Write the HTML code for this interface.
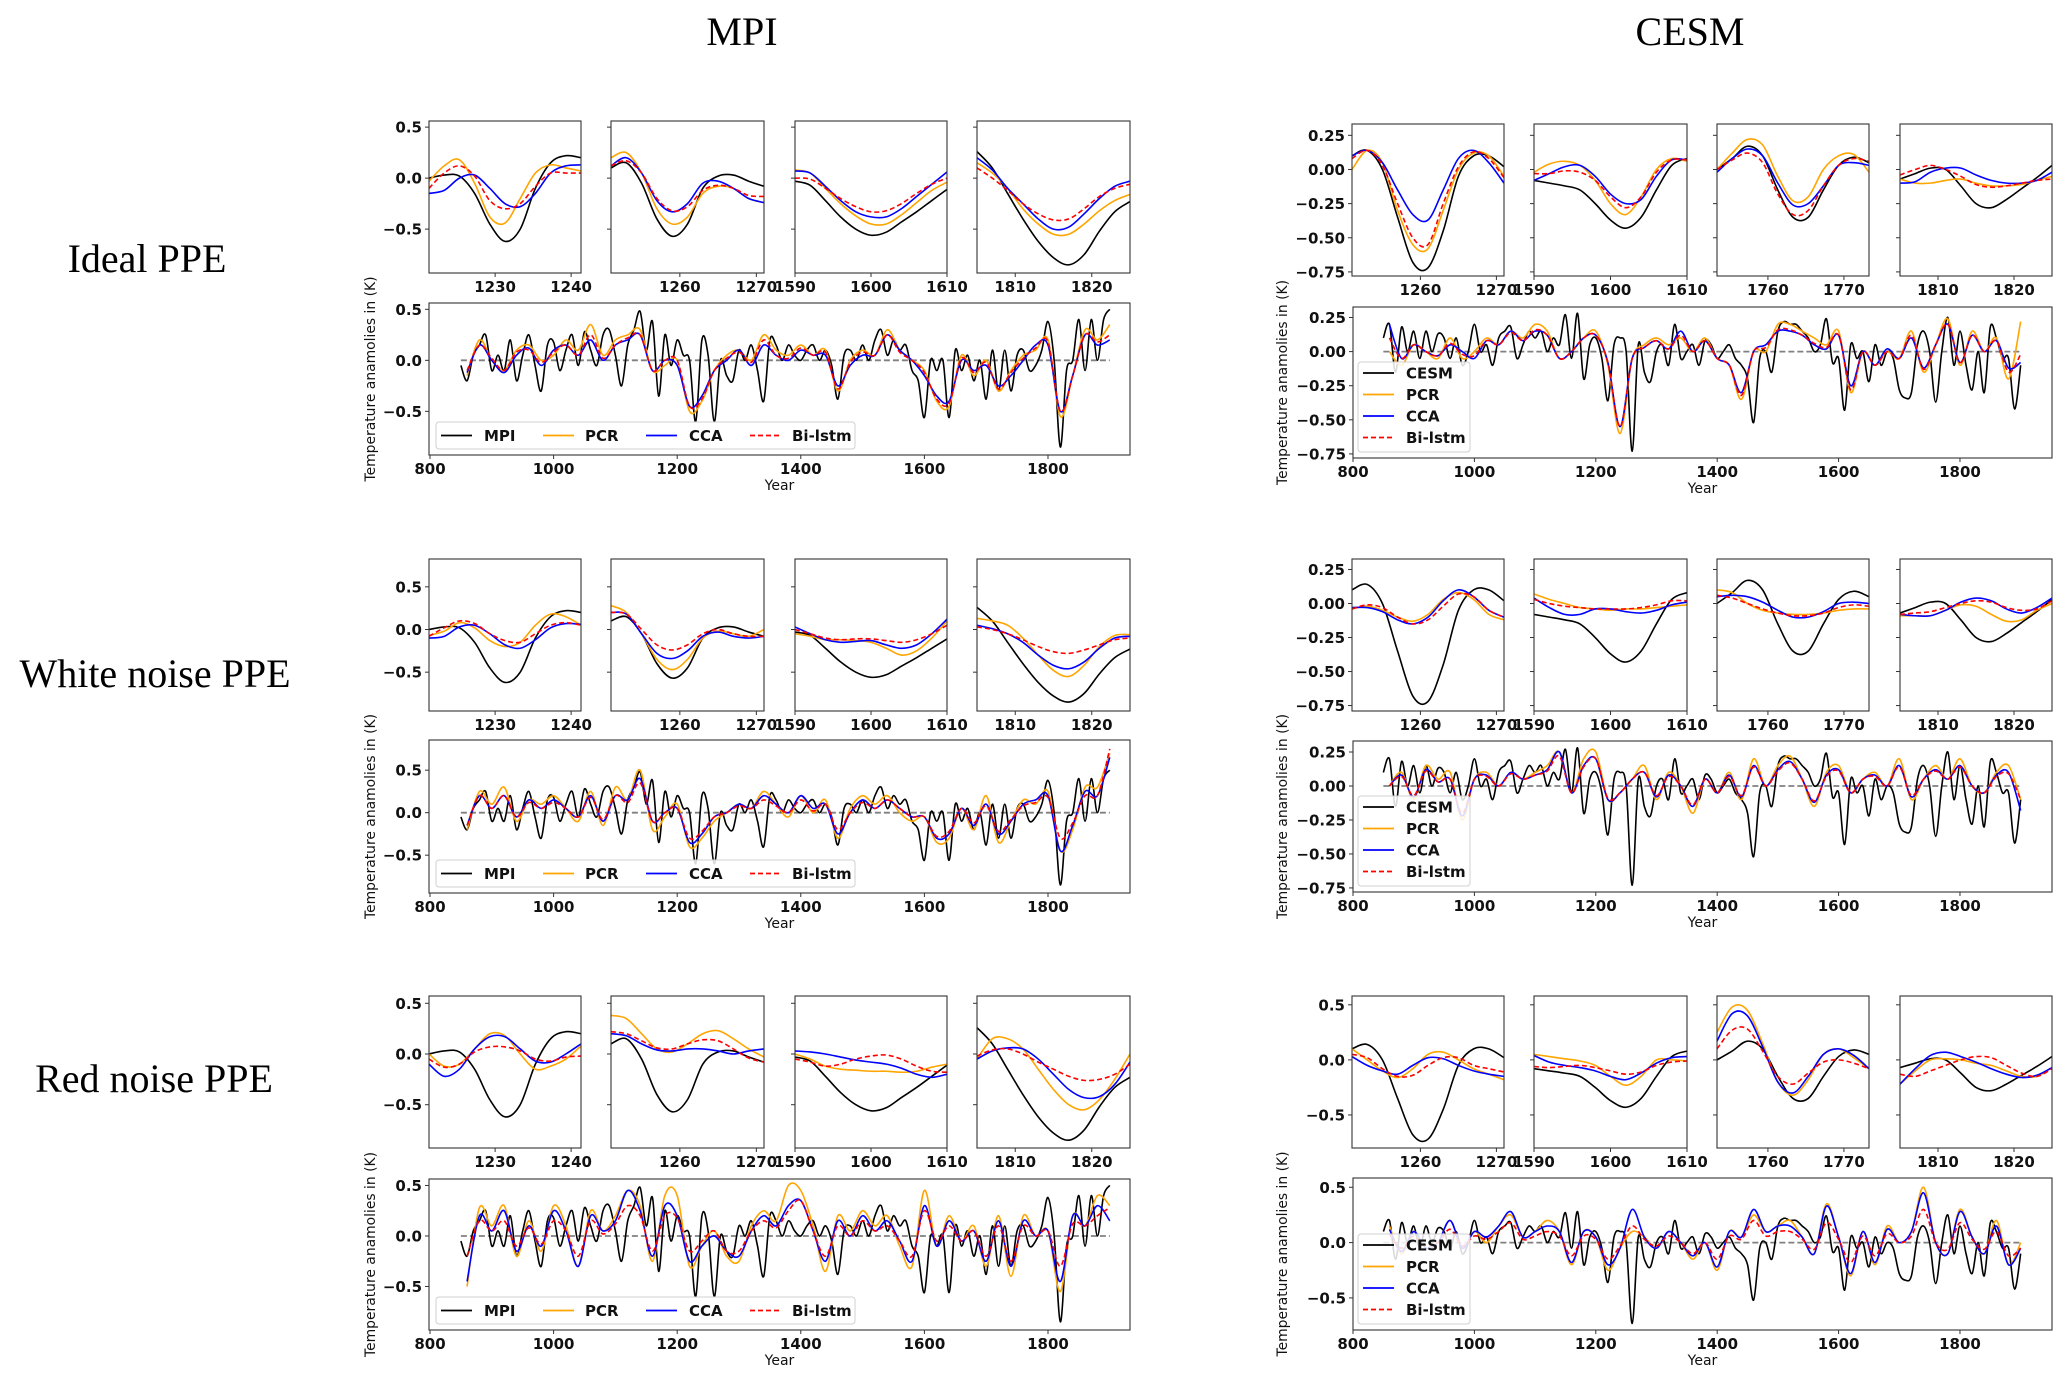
<!DOCTYPE html>
<html><head><meta charset="utf-8"><title>PPE reconstructions MPI vs CESM</title>
<style>
html,body{margin:0;padding:0;background:#fff;}
svg{display:block;}
.tk{font-family:"DejaVu Sans","Liberation Sans",sans-serif;font-weight:bold;font-size:15px;fill:#111;}
.lab{font-family:"DejaVu Sans","Liberation Sans",sans-serif;font-size:14px;fill:#111;}
.ttl{font-family:"Liberation Serif",serif;font-size:40px;fill:#000;}
</style></head>
<body>
<svg id="fig" width="2067" height="1384" viewBox="0 0 2067 1384" xmlns="http://www.w3.org/2000/svg">
<text class="ttl" x="742" y="45" text-anchor="middle">MPI</text>
<text class="ttl" x="1690" y="45" text-anchor="middle">CESM</text>
<text class="ttl" x="147" y="272" text-anchor="middle">Ideal PPE</text>
<text class="ttl" x="155" y="687" text-anchor="middle">White noise PPE</text>
<text class="ttl" x="154" y="1092" text-anchor="middle">Red noise PPE</text>
</svg>
<script>
// ---------- DATA ----------
const TRUTH_START = 850, TRUTH_STEP = 10;
const PRED_START = 860, PRED_STEP = 20;
const MPI_TRUTH = [-0.05,-0.2,0.05,0.15,0.25,-0.1,0.05,-0.1,0.2,-0.2,0.05,0.25,-0.05,-0.3,0.15,0.18,-0.1,0.1,0.25,-0.05,0.28,0.1,-0.05,0.25,0.3,0.05,-0.25,0.15,0.3,0.48,0.1,0.38,-0.35,0.25,-0.05,0.2,0.05,0.0,-0.6,0.2,0.05,-0.6,0.0,-0.15,-0.2,0.1,0.0,0.15,-0.1,-0.4,0.2,0.15,0.0,0.15,0.05,0.0,0.1,0.15,0.0,0.1,-0.05,-0.38,0.05,0.1,0.0,0.15,0.0,0.2,0.3,0.05,0.2,0.1,0.15,-0.1,-0.2,-0.56,0.0,-0.1,0.0,-0.56,0.1,-0.1,0.05,-0.2,0.0,-0.38,0.1,-0.3,0.1,-0.3,0.05,0.1,-0.1,-0.05,0.1,0.38,0.0,-0.85,-0.1,0.0,0.4,-0.1,0.4,0.0,0.4,0.5];
const CESM_TRUTH = [0.1,0.2,-0.15,0.18,0.0,0.15,-0.05,0.15,0.0,0.13,0.1,-0.05,0.1,-0.1,0.0,0.2,0.0,0.05,-0.1,0.1,0.15,0.18,-0.05,0.05,0.15,0.1,0.15,0.0,0.1,0.05,0.27,-0.05,0.28,-0.2,0.05,0.1,-0.05,-0.36,0.05,0.1,0.0,-0.73,0.05,-0.15,-0.22,0.0,0.05,-0.1,0.2,-0.05,0.0,0.05,-0.1,0.08,0.05,-0.05,0.0,0.05,-0.05,-0.1,-0.2,-0.52,-0.05,0.0,-0.15,0.15,0.22,0.2,0.2,0.15,0.1,0.0,0.05,0.24,-0.08,-0.05,-0.43,0.05,-0.05,0.0,-0.22,0.05,-0.1,0.0,-0.05,-0.28,-0.34,-0.3,0.05,0.15,0.0,-0.37,0.0,0.25,-0.1,0.15,-0.1,-0.28,0.0,-0.3,0.18,0.1,-0.05,-0.05,-0.42,-0.1];

const MPI_IDEAL_PCR = [-0.15,0.2,0.0,-0.1,0.1,0.15,0.0,0.05,0.2,0.1,0.35,0.05,0.2,0.25,0.3,-0.1,-0.05,0.0,-0.5,-0.4,-0.1,0.05,0.1,0.0,0.25,0.1,0.05,0.15,0.05,0.1,-0.3,0.0,0.1,0.05,0.3,0.1,0.0,-0.1,-0.4,-0.45,0.05,-0.15,0.0,-0.3,-0.1,0.05,0.1,0.2,-0.55,-0.15,0.3,0.2,0.35];
const MPI_IDEAL_CCA = [-0.12,0.15,0.0,-0.12,0.05,0.12,-0.05,0.1,0.15,0.05,0.2,0.0,0.15,0.2,0.25,-0.1,0.0,-0.05,-0.45,-0.35,-0.1,0.0,0.1,-0.05,0.15,0.05,0.0,0.1,0.05,0.05,-0.25,-0.05,0.05,0.05,0.25,0.1,0.0,-0.15,-0.35,-0.4,0.0,-0.1,-0.05,-0.25,-0.15,0.0,0.15,0.15,-0.5,-0.15,0.25,0.15,0.2];
const MPI_IDEAL_BILSTM = [-0.1,0.15,0.02,-0.1,0.08,0.1,-0.02,0.08,0.15,0.05,0.25,0.02,0.15,0.22,0.25,-0.1,0.0,0.0,-0.45,-0.38,-0.1,0.02,0.08,-0.02,0.2,0.05,0.02,0.12,0.05,0.08,-0.28,-0.02,0.08,0.05,0.25,0.08,0.0,-0.12,-0.38,-0.42,0.02,-0.12,-0.02,-0.28,-0.12,0.02,0.12,0.18,-0.5,-0.15,0.25,0.18,0.25];
const MPI_WHITE_PCR = [-0.2,0.25,0.1,0.3,-0.1,0.15,0.1,0.2,0.05,-0.1,0.25,-0.15,0.3,0.15,0.5,-0.2,-0.05,0.1,-0.4,-0.3,-0.1,0.0,0.1,0.05,0.25,0.1,-0.05,0.2,0.0,0.15,-0.3,0.05,0.2,0.1,0.2,0.0,-0.1,-0.05,-0.35,-0.3,0.05,-0.2,0.2,-0.35,-0.1,0.15,0.1,0.25,-0.45,-0.2,0.3,0.3,0.7];
const MPI_WHITE_CCA = [-0.15,0.2,0.05,0.2,-0.05,0.15,0.05,0.15,0.05,-0.05,0.2,-0.1,0.2,0.15,0.4,-0.1,0.0,0.05,-0.35,-0.25,-0.05,0.0,0.1,0.05,0.2,0.1,0.0,0.2,0.05,0.1,-0.25,0.0,0.15,0.05,0.15,0.05,-0.05,-0.05,-0.3,-0.25,0.05,-0.15,0.1,-0.25,-0.1,0.1,0.15,0.2,-0.45,-0.15,0.25,0.2,0.65];
const MPI_WHITE_BILSTM = [-0.15,0.2,0.05,0.2,-0.05,0.12,0.05,0.12,0.05,-0.05,0.18,-0.08,0.2,0.12,0.35,-0.1,0.0,0.05,-0.3,-0.22,-0.05,0.0,0.08,0.05,0.15,0.08,0.0,0.15,0.02,0.1,-0.2,0.0,0.12,0.05,0.15,0.05,-0.05,-0.05,-0.28,-0.22,0.05,-0.12,0.08,-0.22,-0.08,0.08,0.12,0.18,-0.3,-0.12,0.2,0.2,0.75];
const MPI_RED_PCR = [-0.5,0.28,0.1,0.3,-0.2,0.15,-0.15,0.3,0.1,-0.3,0.25,0.05,0.2,0.45,0.3,-0.25,0.4,0.4,-0.3,-0.1,0.05,-0.2,-0.25,0.1,0.25,0.15,0.5,0.45,0.1,-0.35,0.2,0.05,0.25,0.1,0.2,-0.1,-0.3,0.45,-0.1,0.2,-0.05,0.1,-0.3,0.2,-0.4,0.2,0.0,0.05,-0.55,0.2,0.1,0.4,0.3];
const MPI_RED_CCA = [-0.45,0.2,0.05,0.25,-0.15,0.1,-0.1,0.25,0.05,-0.3,0.2,0.05,0.15,0.45,0.25,-0.2,0.3,0.2,-0.25,-0.1,0.0,-0.15,-0.2,0.05,0.2,0.1,0.3,0.35,0.05,-0.25,0.15,0.0,0.2,0.05,0.15,-0.05,-0.25,0.3,-0.1,0.15,-0.05,0.05,-0.25,0.15,-0.3,0.15,0.0,0.05,-0.45,0.2,0.1,0.3,0.15];
const MPI_RED_BILSTM = [-0.2,0.15,0.05,0.15,-0.1,0.08,-0.08,0.15,0.05,-0.2,0.15,0.02,0.12,0.3,0.2,-0.15,0.2,0.18,-0.15,-0.05,0.05,-0.15,-0.15,0.05,0.15,0.08,0.25,0.35,0.05,-0.2,0.1,0.0,0.15,0.05,0.1,-0.05,-0.2,0.25,-0.05,0.1,-0.05,0.05,-0.2,0.1,-0.25,0.1,0.0,0.05,-0.3,0.12,0.1,0.2,0.28];
const CESM_IDEAL_PCR = [0.0,-0.1,0.05,0.0,-0.05,0.1,-0.05,0.0,0.1,0.05,0.15,0.1,0.2,0.15,-0.05,0.0,0.1,0.15,-0.1,-0.6,-0.05,0.05,0.1,0.05,0.1,0.0,0.1,-0.05,-0.1,-0.35,0.0,0.0,0.2,0.2,0.15,0.1,0.05,0.15,-0.3,0.0,-0.1,0.0,-0.05,0.15,-0.15,0.05,0.24,-0.1,0.15,0.0,0.1,-0.2,0.22];
const CESM_IDEAL_CCA = [0.2,-0.05,0.05,0.0,-0.03,0.05,0.0,-0.05,0.08,0.05,0.15,0.08,0.15,0.12,-0.05,0.0,0.1,0.12,-0.08,-0.55,-0.05,0.03,0.08,0.02,0.15,0.0,0.08,-0.05,-0.1,-0.3,0.0,0.05,0.15,0.15,0.12,0.05,0.02,0.12,-0.25,0.0,-0.1,0.02,-0.05,0.1,-0.12,0.05,0.2,-0.08,0.12,0.0,0.08,-0.12,-0.08];
const CESM_IDEAL_BILSTM = [0.1,-0.05,0.05,0.0,-0.03,0.06,-0.02,-0.03,0.08,0.05,0.14,0.08,0.16,0.12,-0.05,0.0,0.1,0.12,-0.08,-0.55,-0.05,0.03,0.08,0.02,0.12,0.0,0.08,-0.05,-0.1,-0.32,0.0,0.03,0.16,0.16,0.12,0.06,0.03,0.12,-0.28,0.0,-0.1,0.0,-0.05,0.12,-0.13,0.05,0.2,-0.08,0.12,0.0,0.08,-0.15,-0.02];
const CESM_WHITE_PCR = [0.0,0.1,-0.1,0.15,0.05,0.1,-0.25,0.05,0.1,0.0,0.1,0.05,0.1,0.15,0.25,-0.05,0.2,0.25,-0.1,-0.05,0.05,0.15,-0.1,0.1,0.0,-0.2,0.05,-0.05,0.1,-0.1,0.2,0.0,0.15,0.22,0.05,-0.15,0.1,0.15,-0.05,0.05,0.1,0.0,0.2,-0.1,0.05,0.15,0.05,0.2,0.0,-0.05,0.1,0.15,-0.1];
const CESM_WHITE_CCA = [0.0,0.08,-0.08,0.12,0.03,0.05,-0.22,0.05,0.08,0.0,0.1,0.05,0.08,0.12,0.25,-0.05,0.15,0.2,-0.1,-0.05,0.05,0.1,-0.08,0.08,0.0,-0.15,0.05,-0.05,0.08,-0.08,0.15,0.0,0.12,0.18,0.05,-0.12,0.08,0.12,-0.05,0.05,0.08,0.0,0.15,-0.08,0.05,0.12,0.05,0.15,0.0,-0.05,0.08,0.1,-0.18];
const CESM_WHITE_BILSTM = [0.0,0.07,-0.07,0.11,0.03,0.05,-0.2,0.05,0.07,0.0,0.09,0.05,0.08,0.11,0.22,-0.05,0.14,0.2,-0.09,-0.05,0.05,0.1,-0.07,0.07,0.0,-0.14,0.05,-0.05,0.07,-0.07,0.14,0.0,0.11,0.17,0.05,-0.11,0.07,0.11,-0.05,0.05,0.07,0.0,0.14,-0.07,0.05,0.11,0.05,0.14,0.0,-0.05,0.07,0.09,-0.1];
const CESM_RED_PCR = [0.15,-0.1,0.1,-0.05,0.0,0.2,-0.05,0.1,0.0,0.15,0.25,0.05,0.1,0.2,0.1,-0.2,0.1,0.05,-0.25,-0.05,0.1,0.05,-0.05,0.1,0.0,-0.15,0.0,-0.25,0.1,0.05,0.25,0.1,0.15,0.2,0.05,-0.1,0.35,0.05,-0.3,0.1,-0.2,0.15,0.0,0.1,0.5,0.0,-0.1,0.3,0.05,-0.1,0.2,-0.2,0.0];
const CESM_RED_CCA = [0.12,-0.08,0.1,-0.05,0.0,0.2,-0.05,0.1,0.05,0.15,0.28,0.05,0.1,0.15,0.1,-0.18,0.1,0.05,-0.2,-0.05,0.3,0.05,-0.05,0.1,0.0,-0.12,0.0,-0.22,0.1,0.05,0.3,0.1,0.15,0.15,0.05,-0.1,0.33,0.05,-0.28,0.1,-0.18,0.12,0.0,0.1,0.45,0.0,-0.1,0.28,0.05,-0.1,0.15,-0.2,-0.05];
const CESM_RED_BILSTM = [0.08,-0.05,0.06,-0.03,0.0,0.12,-0.03,0.06,0.03,0.1,0.18,0.03,0.06,0.1,0.06,-0.12,0.06,0.03,-0.15,-0.03,0.15,0.03,-0.03,0.06,0.0,-0.1,0.0,-0.15,0.06,0.03,0.2,0.06,0.1,0.1,0.03,-0.06,0.18,0.03,-0.18,0.06,-0.12,0.08,0.0,0.06,0.3,0.0,-0.06,0.18,0.03,-0.06,0.1,-0.12,-0.05];

// zoomed windows: values every 2 years from window start
const ZOOM_STEP = 2;
const MPI_ZOOM_START = [1221.3, 1251, 1590, 1805];
const CESM_ZOOM_START = [1251, 1590, 1753.3, 1805];
const MPI_ZOOM_TICKS = [[1230,1240],[1260,1270],[1590,1600,1610],[1810,1820]];
const CESM_ZOOM_TICKS = [[1260,1270],[1590,1600,1610],[1760,1770],[1810,1820]];
const MPI_ZOOM_TRUTH = [
 [0.0,0.03,0.02,-0.15,-0.45,-0.62,-0.5,-0.1,0.15,0.22,0.2],
 [0.1,0.15,-0.05,-0.4,-0.57,-0.45,-0.1,0.02,0.03,-0.03,-0.08],
 [-0.03,-0.07,-0.22,-0.38,-0.5,-0.56,-0.53,-0.43,-0.33,-0.22,-0.11],
 [0.26,0.1,-0.15,-0.4,-0.62,-0.78,-0.85,-0.75,-0.52,-0.33,-0.23]];
const CESM_ZOOM_TRUTH = [
 [0.1,0.14,0.0,-0.35,-0.68,-0.72,-0.45,-0.05,0.1,0.1,0.02],
 [-0.08,-0.1,-0.12,-0.15,-0.25,-0.37,-0.43,-0.35,-0.15,0.03,0.08],
 [0.0,0.08,0.17,0.1,-0.15,-0.35,-0.35,-0.15,0.03,0.09,0.05],
 [-0.07,-0.03,0.01,0.0,-0.12,-0.25,-0.28,-0.22,-0.14,-0.06,0.03]];
const MPI_IDEAL_ZOOM_PCR = [[-0.03,0.12,0.18,-0.05,-0.38,-0.44,-0.2,0.05,0.13,0.1,0.07],[0.2,0.25,0.05,-0.3,-0.45,-0.38,-0.15,-0.08,-0.1,-0.2,-0.24],[0.08,0.05,-0.1,-0.25,-0.37,-0.45,-0.45,-0.36,-0.24,-0.12,-0.04],[0.15,0.05,-0.1,-0.3,-0.45,-0.55,-0.55,-0.45,-0.32,-0.22,-0.16]];
const MPI_IDEAL_ZOOM_CCA = [[-0.15,-0.12,0.0,0.03,-0.1,-0.25,-0.28,-0.15,0.05,0.12,0.13],[0.12,0.2,0.05,-0.22,-0.33,-0.25,-0.05,-0.03,-0.1,-0.2,-0.24],[0.07,0.05,-0.08,-0.22,-0.33,-0.38,-0.38,-0.3,-0.18,-0.06,0.06],[0.2,0.08,-0.1,-0.25,-0.4,-0.5,-0.48,-0.35,-0.2,-0.08,-0.03]];
const MPI_IDEAL_ZOOM_BILSTM = [[-0.1,0.05,0.12,0.02,-0.22,-0.3,-0.25,-0.08,0.05,0.05,0.05],[0.12,0.17,0.05,-0.2,-0.32,-0.28,-0.12,-0.07,-0.1,-0.17,-0.18],[0.0,-0.01,-0.1,-0.2,-0.28,-0.33,-0.32,-0.25,-0.15,-0.06,0.0],[0.1,0.0,-0.12,-0.25,-0.35,-0.41,-0.4,-0.3,-0.18,-0.1,-0.06]];
const MPI_WHITE_ZOOM_PCR = [[-0.07,-0.02,0.08,0.02,-0.13,-0.2,-0.15,0.05,0.18,0.15,0.05],[0.28,0.2,-0.05,-0.35,-0.47,-0.35,-0.1,-0.02,-0.05,-0.08,0.0],[-0.05,-0.08,-0.12,-0.12,-0.13,-0.15,-0.22,-0.3,-0.25,-0.1,0.1],[0.13,0.1,0.05,-0.1,-0.3,-0.48,-0.55,-0.42,-0.2,-0.07,-0.06]];
const MPI_WHITE_ZOOM_CCA = [[-0.1,-0.08,0.03,0.05,-0.05,-0.18,-0.22,-0.12,0.02,0.07,0.06],[0.2,0.18,-0.05,-0.28,-0.34,-0.25,-0.08,-0.03,-0.08,-0.1,-0.08],[0.03,-0.05,-0.12,-0.15,-0.14,-0.13,-0.18,-0.22,-0.18,-0.05,0.12],[0.05,0.01,-0.05,-0.15,-0.3,-0.42,-0.46,-0.38,-0.22,-0.1,-0.08]];
const MPI_WHITE_ZOOM_BILSTM = [[-0.08,0.02,0.1,0.07,-0.05,-0.13,-0.15,-0.05,0.05,0.08,0.05],[0.2,0.18,0.0,-0.18,-0.24,-0.18,-0.05,0.0,-0.05,-0.08,-0.08],[0.0,-0.05,-0.1,-0.12,-0.11,-0.11,-0.13,-0.15,-0.12,-0.05,0.05],[0.03,0.0,-0.05,-0.12,-0.2,-0.26,-0.28,-0.24,-0.18,-0.12,-0.1]];
const MPI_RED_ZOOM_PCR = [[0.0,-0.12,-0.1,0.05,0.2,0.18,0.0,-0.15,-0.12,-0.05,0.08],[0.38,0.35,0.2,0.05,0.02,0.1,0.2,0.23,0.15,0.05,-0.03],[0.0,-0.05,-0.12,-0.15,-0.16,-0.17,-0.17,-0.18,-0.17,-0.13,-0.1],[-0.05,0.15,0.15,0.05,-0.15,-0.35,-0.5,-0.55,-0.45,-0.25,0.0]];
const MPI_RED_ZOOM_CCA = [[-0.1,-0.22,-0.15,0.05,0.17,0.17,0.05,-0.07,-0.08,0.0,0.1],[0.2,0.18,0.1,0.04,0.03,0.05,0.05,0.03,0.0,0.03,0.05],[0.03,0.02,0.0,-0.03,-0.06,-0.08,-0.1,-0.14,-0.2,-0.23,-0.2],[-0.05,0.03,0.06,0.05,-0.05,-0.2,-0.35,-0.43,-0.42,-0.3,-0.08]];
const MPI_RED_ZOOM_BILSTM = [[-0.05,-0.13,-0.1,0.02,0.07,0.07,0.03,-0.05,-0.07,-0.03,-0.02],[0.22,0.2,0.13,0.06,0.05,0.1,0.14,0.13,0.05,-0.04,-0.08],[-0.05,-0.08,-0.12,-0.1,-0.05,-0.02,-0.01,-0.05,-0.12,-0.17,-0.18],[-0.02,0.04,0.05,0.0,-0.08,-0.15,-0.22,-0.26,-0.25,-0.2,-0.1]];
const CESM_IDEAL_ZOOM_PCR = [[0.0,0.14,0.05,-0.3,-0.55,-0.58,-0.3,0.0,0.12,0.1,-0.05],[-0.02,0.04,0.06,0.03,-0.08,-0.25,-0.33,-0.2,0.0,0.08,0.06],[0.0,0.12,0.22,0.18,-0.05,-0.23,-0.2,0.0,0.1,0.11,-0.02],[-0.07,-0.1,-0.1,-0.08,-0.07,-0.1,-0.12,-0.12,-0.11,-0.08,-0.05]];
const CESM_IDEAL_ZOOM_CCA = [[0.1,0.14,0.05,-0.15,-0.33,-0.37,-0.15,0.08,0.14,0.05,-0.1],[-0.08,-0.03,0.02,0.03,-0.05,-0.18,-0.25,-0.22,-0.05,0.07,0.07],[-0.02,0.08,0.15,0.1,-0.1,-0.26,-0.25,-0.12,0.03,0.05,0.03],[-0.1,-0.09,-0.02,0.01,0.01,-0.04,-0.08,-0.1,-0.1,-0.08,-0.02]];
const CESM_IDEAL_ZOOM_BILSTM = [[0.08,0.14,0.03,-0.25,-0.5,-0.55,-0.25,0.02,0.13,0.08,-0.06],[-0.03,-0.03,-0.01,-0.02,-0.08,-0.2,-0.28,-0.2,-0.02,0.07,0.07],[0.0,0.07,0.12,0.05,-0.18,-0.33,-0.3,-0.12,0.03,0.08,0.06],[-0.04,0.0,0.03,0.0,-0.05,-0.11,-0.13,-0.12,-0.1,-0.08,-0.07]];
const CESM_WHITE_ZOOM_PCR = [[-0.04,-0.02,-0.05,-0.1,-0.13,-0.08,0.03,0.08,0.03,-0.08,-0.12],[0.07,0.03,0.0,-0.03,-0.04,-0.05,-0.04,-0.04,-0.03,-0.02,-0.01],[0.1,0.08,0.0,-0.05,-0.07,-0.08,-0.08,-0.07,-0.05,-0.04,-0.04],[-0.09,-0.09,-0.09,-0.05,-0.01,-0.02,-0.08,-0.13,-0.12,-0.05,0.0]];
const CESM_WHITE_ZOOM_CCA = [[-0.03,-0.03,-0.06,-0.12,-0.15,-0.1,0.02,0.1,0.05,-0.05,-0.1],[0.04,-0.03,-0.08,-0.08,-0.04,-0.04,-0.06,-0.07,-0.05,-0.01,0.01],[0.05,0.06,0.05,0.01,-0.05,-0.1,-0.1,-0.06,0.0,0.01,0.0],[-0.08,-0.09,-0.09,-0.05,0.01,0.04,0.02,-0.04,-0.07,-0.03,0.04]];
const CESM_WHITE_ZOOM_BILSTM = [[-0.04,-0.01,-0.03,-0.1,-0.15,-0.12,-0.02,0.07,0.05,-0.05,-0.1],[0.03,0.0,-0.02,-0.03,-0.04,-0.04,-0.04,-0.03,-0.01,0.02,0.02],[0.06,0.04,0.0,-0.04,-0.07,-0.09,-0.09,-0.07,-0.03,-0.01,-0.02],[-0.08,-0.07,-0.06,-0.03,0.0,0.02,0.01,-0.03,-0.05,-0.04,0.02]];
const CESM_RED_ZOOM_PCR = [[0.1,0.0,-0.1,-0.16,-0.08,0.05,0.07,0.0,-0.08,-0.13,-0.18],[0.05,0.03,0.01,-0.01,-0.05,-0.15,-0.23,-0.15,0.0,0.0,-0.01],[0.25,0.48,0.45,0.15,-0.2,-0.32,-0.18,0.05,0.1,0.02,-0.08],[-0.22,-0.1,0.0,0.01,0.0,-0.03,-0.05,-0.1,-0.15,-0.15,-0.07]];
const CESM_RED_ZOOM_CCA = [[0.03,-0.05,-0.1,-0.13,-0.05,0.02,0.01,-0.05,-0.1,-0.13,-0.15],[0.04,-0.02,-0.05,-0.07,-0.1,-0.15,-0.18,-0.12,-0.03,0.02,0.03],[0.17,0.42,0.4,0.12,-0.2,-0.3,-0.15,0.05,0.1,0.04,-0.08],[-0.22,-0.08,0.04,0.07,0.03,-0.02,-0.08,-0.13,-0.16,-0.14,-0.07]];
const CESM_RED_ZOOM_BILSTM = [[0.05,0.02,-0.08,-0.15,-0.14,-0.05,0.02,0.02,-0.05,-0.08,-0.11],[-0.06,-0.07,-0.06,-0.05,-0.07,-0.1,-0.13,-0.11,-0.05,-0.02,-0.01],[0.1,0.27,0.28,0.08,-0.15,-0.22,-0.12,-0.02,0.0,-0.03,-0.08],[-0.13,-0.15,-0.1,-0.05,0.0,0.03,0.02,-0.05,-0.12,-0.15,-0.08]];

const LONG_XTICKS = [800,1000,1200,1400,1600,1800];
const YTICKS_HALF = [0.5,0,-0.5];
const YTICKS_QUARTER = [0.25,0,-0.25,-0.5,-0.75];
const SERIES_NAMES_MPI = ["MPI","PCR","CCA","Bi-lstm"];
const SERIES_NAMES_CESM = ["CESM","PCR","CCA","Bi-lstm"];

// ---------- LAYOUT ----------
const NS = "http://www.w3.org/2000/svg";
const svg = document.getElementById("fig");
const COLORS = ["#000000","#FFA500","#0000FF","#FF0000"];
let clipId = 0;

function el(tag, attrs, parent){
  const e = document.createElementNS(NS, tag);
  for (const k in attrs) e.setAttribute(k, attrs[k]);
  (parent || svg).appendChild(e);
  return e;
}
function fmt(v, dec){
  const s = Math.abs(v).toFixed(dec);
  return (v < 0 ? "\u2212" : "") + s;
}
function smoothPath(pts){
  let d = "M" + pts[0][0].toFixed(2) + "," + pts[0][1].toFixed(2);
  for (let i = 0; i < pts.length - 1; i++){
    const p0 = pts[i-1] || pts[i], p1 = pts[i], p2 = pts[i+1], p3 = pts[i+2] || pts[i+1];
    const c1x = p1[0] + (p2[0]-p0[0])/6, c1y = p1[1] + (p2[1]-p0[1])/6;
    const c2x = p2[0] - (p3[0]-p1[0])/6, c2y = p2[1] - (p3[1]-p1[1])/6;
    d += "C" + c1x.toFixed(2)+","+c1y.toFixed(2)+" "+c2x.toFixed(2)+","+c2y.toFixed(2)+" "+p2[0].toFixed(2)+","+p2[1].toFixed(2);
  }
  return d;
}
function makeAxes(x0, x1, y0, y1, xlim, ylim){
  const sx = v => x0 + (v - xlim[0]) / (xlim[1] - xlim[0]) * (x1 - x0);
  const sy = v => y1 - (v - ylim[0]) / (ylim[1] - ylim[0]) * (y1 - y0);
  return {sx, sy, x0, x1, y0, y1};
}
function addClip(ax){
  const id = "clip" + (clipId++);
  const cp = el("clipPath", {id: id});
  el("rect", {x: ax.x0, y: ax.y0, width: ax.x1 - ax.x0, height: ax.y1 - ax.y0}, cp);
  return id;
}
function drawSeries(ax, clip, start, step, values, idx, name){
  const pts = values.map((v, i) => [ax.sx(start + step * i), ax.sy(v)]);
  const p = el("path", {d: smoothPath(pts), fill: "none", stroke: COLORS[idx], "stroke-width": 1.6, "clip-path": "url(#" + clip + ")", "stroke-linejoin": "round"});
  if (idx === 3) p.setAttribute("stroke-dasharray", "5,3");
  
  
}
function frame(ax, name){
  const r = el("rect", {x: ax.x0, y: ax.y0, width: ax.x1 - ax.x0, height: ax.y1 - ax.y0, fill: "none", stroke: "#333", "stroke-width": 1.1});
  
  
}
function yTicks(ax, ticks, dec, labels, name){
  ticks.forEach(t => {
    const y = ax.sy(t);
    el("line", {x1: ax.x0 - 4, x2: ax.x0, y1: y, y2: y, stroke: "#333", "stroke-width": 1});
    if (labels){
      const tx = el("text", {x: ax.x0 - 7, y: y + 5.5, "text-anchor": "end", class: "tk"});
      tx.textContent = fmt(t, dec);
      
      
    }
  });
}
function xTicks(ax, ticks, name){
  ticks.forEach(t => {
    const x = ax.sx(t);
    el("line", {x1: x, x2: x, y1: ax.y1, y2: ax.y1 + 4, stroke: "#333", "stroke-width": 1});
    const tx = el("text", {x: x, y: ax.y1 + 19, "text-anchor": "middle", class: "tk"});
    tx.textContent = String(t);
    
    
  });
}

function drawBlock(cfg){
  const names = cfg.seriesNames;
  // zoom panels
  for (let k = 0; k < 4; k++){
    const [px0, px1] = cfg.zoomX[k];
    const st = cfg.zoomStart[k];
    const ax = makeAxes(px0, px1, cfg.zoomY[0], cfg.zoomY[1], [st, st + 20], cfg.zoomYlim);
    const clip = addClip(ax);
    const series = [cfg.zoomTruth[k], cfg.zoomPcr[k], cfg.zoomCca[k], cfg.zoomBi[k]];
    series.forEach((vals, i) => drawSeries(ax, clip, st, ZOOM_STEP, vals, i, cfg.id + '-zoom' + (k+1) + '-' + names[i].toLowerCase() + '-line'));
    frame(ax, cfg.id + '-zoom-panel-' + (k+1));
    yTicks(ax, cfg.yticks, cfg.dec, k === 0, cfg.id + '-zoom');
    xTicks(ax, cfg.zoomTicks[k], cfg.id + '-zoom' + (k+1));
  }
  // long panel
  const ax = makeAxes(cfg.longX[0], cfg.longX[1], cfg.longY[0], cfg.longY[1], cfg.longXlim, cfg.longYlim);
  const clip = addClip(ax);
  const zl = el("line", {x1: ax.sx(850), x2: ax.sx(1900), y1: ax.sy(0), y2: ax.sy(0), stroke: "#808080", "stroke-width": 1.8, "stroke-dasharray": "6,3"});
  
  
  drawSeries(ax, clip, TRUTH_START, TRUTH_STEP, cfg.truth, 0, cfg.id + '-long-' + names[0].toLowerCase() + '-line');
  drawSeries(ax, clip, PRED_START, PRED_STEP, cfg.pcr, 1, cfg.id + '-long-pcr-line');
  drawSeries(ax, clip, PRED_START, PRED_STEP, cfg.cca, 2, cfg.id + '-long-cca-line');
  drawSeries(ax, clip, PRED_START, PRED_STEP, cfg.bi, 3, cfg.id + '-long-bilstm-line');
  frame(ax, cfg.id + '-long-panel');
  yTicks(ax, cfg.yticks, cfg.dec, true, cfg.id + '-long');
  xTicks(ax, LONG_XTICKS, cfg.id + '-long');
  const xl = el("text", {x: (ax.x0 + ax.x1) / 2, y: ax.y1 + 35, "text-anchor": "middle", class: "lab"});
  xl.textContent = "Year";
  
  
  const yc = (ax.y0 + ax.y1) / 2;
  const yl = el("text", {x: cfg.ylabX, y: yc, "text-anchor": "middle", class: "lab", transform: "rotate(-90 " + cfg.ylabX + " " + yc + ")", textLength: 205, lengthAdjust: "spacingAndGlyphs", "dominant-baseline": "central"});
  yl.textContent = "Temperature anamolies in (K)";
  
  
  // legend
  const lg = el("g", {});
  
  
  if (cfg.legendHorizontal){
    const bx = 436, by = ax.y1 - 33, bw = 419, bh = 27;
    el("rect", {x: bx, y: by, width: bw, height: bh, rx: 3, fill: "#fff", "fill-opacity": 0.85, stroke: "#d0d0d0"}, lg);
    const lineX = [441, 543, 646, 750], textX = [484, 585, 689, 792];
    names.forEach((n, i) => {
      const ln = el("line", {x1: lineX[i], x2: lineX[i] + 31, y1: by + bh/2, y2: by + bh/2, stroke: COLORS[i], "stroke-width": 1.8}, lg);
      if (i === 3) ln.setAttribute("stroke-dasharray", "5,3");
      const t = el("text", {x: textX[i], y: by + bh/2 + 5.5, class: "tk"}, lg);
      t.textContent = n;
      
      
    });
  } else {
    const bx = 1358, by = ax.y1 - 96, bw = 112, bh = 90;
    el("rect", {x: bx, y: by, width: bw, height: bh, rx: 3, fill: "#fff", "fill-opacity": 0.85, stroke: "#d0d0d0"}, lg);
    names.forEach((n, i) => {
      const cy = by + 11 + i * 21.5;
      const ln = el("line", {x1: 1363, x2: 1394, y1: cy, y2: cy, stroke: COLORS[i], "stroke-width": 1.8}, lg);
      if (i === 3) ln.setAttribute("stroke-dasharray", "5,3");
      const t = el("text", {x: 1406, y: cy + 5.5, class: "tk"}, lg);
      t.textContent = n;
      
      
    });
  }
}

const MPI_ZX = [[429,581],[611,764],[795,947],[977,1130]];
const CESM_ZX = [[1352,1504],[1534,1687],[1717,1869],[1900,2052]];
const MPI_LX = [429,1130], MPI_LXLIM = [798.4,1932.7];
const CESM_LX = [1353,2052], CESM_LXLIM = [800,1951.6];

const blocks = [
 {id:"mpi-ideal", zoomX:MPI_ZX, zoomStart:MPI_ZOOM_START, zoomTicks:MPI_ZOOM_TICKS, zoomY:[121,273], zoomYlim:[-0.93,0.56],
  zoomTruth:MPI_ZOOM_TRUTH, zoomPcr:MPI_IDEAL_ZOOM_PCR, zoomCca:MPI_IDEAL_ZOOM_CCA, zoomBi:MPI_IDEAL_ZOOM_BILSTM,
  longX:MPI_LX, longXlim:MPI_LXLIM, longY:[303,455], longYlim:[-0.928,0.562],
  truth:MPI_TRUTH, pcr:MPI_IDEAL_PCR, cca:MPI_IDEAL_CCA, bi:MPI_IDEAL_BILSTM, yticks:YTICKS_HALF, dec:1, ylabX:371, legendHorizontal:true, seriesNames:SERIES_NAMES_MPI},
 {id:"mpi-white", zoomX:MPI_ZX, zoomStart:MPI_ZOOM_START, zoomTicks:MPI_ZOOM_TICKS, zoomY:[559,711], zoomYlim:[-0.955,0.826],
  zoomTruth:MPI_ZOOM_TRUTH, zoomPcr:MPI_WHITE_ZOOM_PCR, zoomCca:MPI_WHITE_ZOOM_CCA, zoomBi:MPI_WHITE_ZOOM_BILSTM,
  longX:MPI_LX, longXlim:MPI_LXLIM, longY:[740,893], longYlim:[-0.945,0.855],
  truth:MPI_TRUTH, pcr:MPI_WHITE_PCR, cca:MPI_WHITE_CCA, bi:MPI_WHITE_BILSTM, yticks:YTICKS_HALF, dec:1, ylabX:371, legendHorizontal:true, seriesNames:SERIES_NAMES_MPI},
 {id:"mpi-red", zoomX:MPI_ZX, zoomStart:MPI_ZOOM_START, zoomTicks:MPI_ZOOM_TICKS, zoomY:[996,1148], zoomYlim:[-0.927,0.572],
  zoomTruth:MPI_ZOOM_TRUTH, zoomPcr:MPI_RED_ZOOM_PCR, zoomCca:MPI_RED_ZOOM_CCA, zoomBi:MPI_RED_ZOOM_BILSTM,
  longX:MPI_LX, longXlim:MPI_LXLIM, longY:[1179,1330], longYlim:[-0.931,0.564],
  truth:MPI_TRUTH, pcr:MPI_RED_PCR, cca:MPI_RED_CCA, bi:MPI_RED_BILSTM, yticks:YTICKS_HALF, dec:1, ylabX:371, legendHorizontal:true, seriesNames:SERIES_NAMES_MPI},
 {id:"cesm-ideal", zoomX:CESM_ZX, zoomStart:CESM_ZOOM_START, zoomTicks:CESM_ZOOM_TICKS, zoomY:[124,276], zoomYlim:[-0.78,0.333],
  zoomTruth:CESM_ZOOM_TRUTH, zoomPcr:CESM_IDEAL_ZOOM_PCR, zoomCca:CESM_IDEAL_ZOOM_CCA, zoomBi:CESM_IDEAL_ZOOM_BILSTM,
  longX:CESM_LX, longXlim:CESM_LXLIM, longY:[307,458], longYlim:[-0.78,0.327],
  truth:CESM_TRUTH, pcr:CESM_IDEAL_PCR, cca:CESM_IDEAL_CCA, bi:CESM_IDEAL_BILSTM, yticks:YTICKS_QUARTER, dec:2, ylabX:1283, legendHorizontal:false, seriesNames:SERIES_NAMES_CESM},
 {id:"cesm-white", zoomX:CESM_ZX, zoomStart:CESM_ZOOM_START, zoomTicks:CESM_ZOOM_TICKS, zoomY:[559,711], zoomYlim:[-0.79,0.327],
  zoomTruth:CESM_ZOOM_TRUTH, zoomPcr:CESM_WHITE_ZOOM_PCR, zoomCca:CESM_WHITE_ZOOM_CCA, zoomBi:CESM_WHITE_ZOOM_BILSTM,
  longX:CESM_LX, longXlim:CESM_LXLIM, longY:[741,892], longYlim:[-0.78,0.331],
  truth:CESM_TRUTH, pcr:CESM_WHITE_PCR, cca:CESM_WHITE_CCA, bi:CESM_WHITE_BILSTM, yticks:YTICKS_QUARTER, dec:2, ylabX:1283, legendHorizontal:false, seriesNames:SERIES_NAMES_CESM},
 {id:"cesm-red", zoomX:CESM_ZX, zoomStart:CESM_ZOOM_START, zoomTicks:CESM_ZOOM_TICKS, zoomY:[996,1148], zoomYlim:[-0.8,0.58],
  zoomTruth:CESM_ZOOM_TRUTH, zoomPcr:CESM_RED_ZOOM_PCR, zoomCca:CESM_RED_ZOOM_CCA, zoomBi:CESM_RED_ZOOM_BILSTM,
  longX:CESM_LX, longXlim:CESM_LXLIM, longY:[1178,1330], longYlim:[-0.79,0.584],
  truth:CESM_TRUTH, pcr:CESM_RED_PCR, cca:CESM_RED_CCA, bi:CESM_RED_BILSTM, yticks:YTICKS_HALF, dec:1, ylabX:1283, legendHorizontal:false, seriesNames:SERIES_NAMES_CESM}
];
blocks.forEach(drawBlock);
</script>
</body></html>
